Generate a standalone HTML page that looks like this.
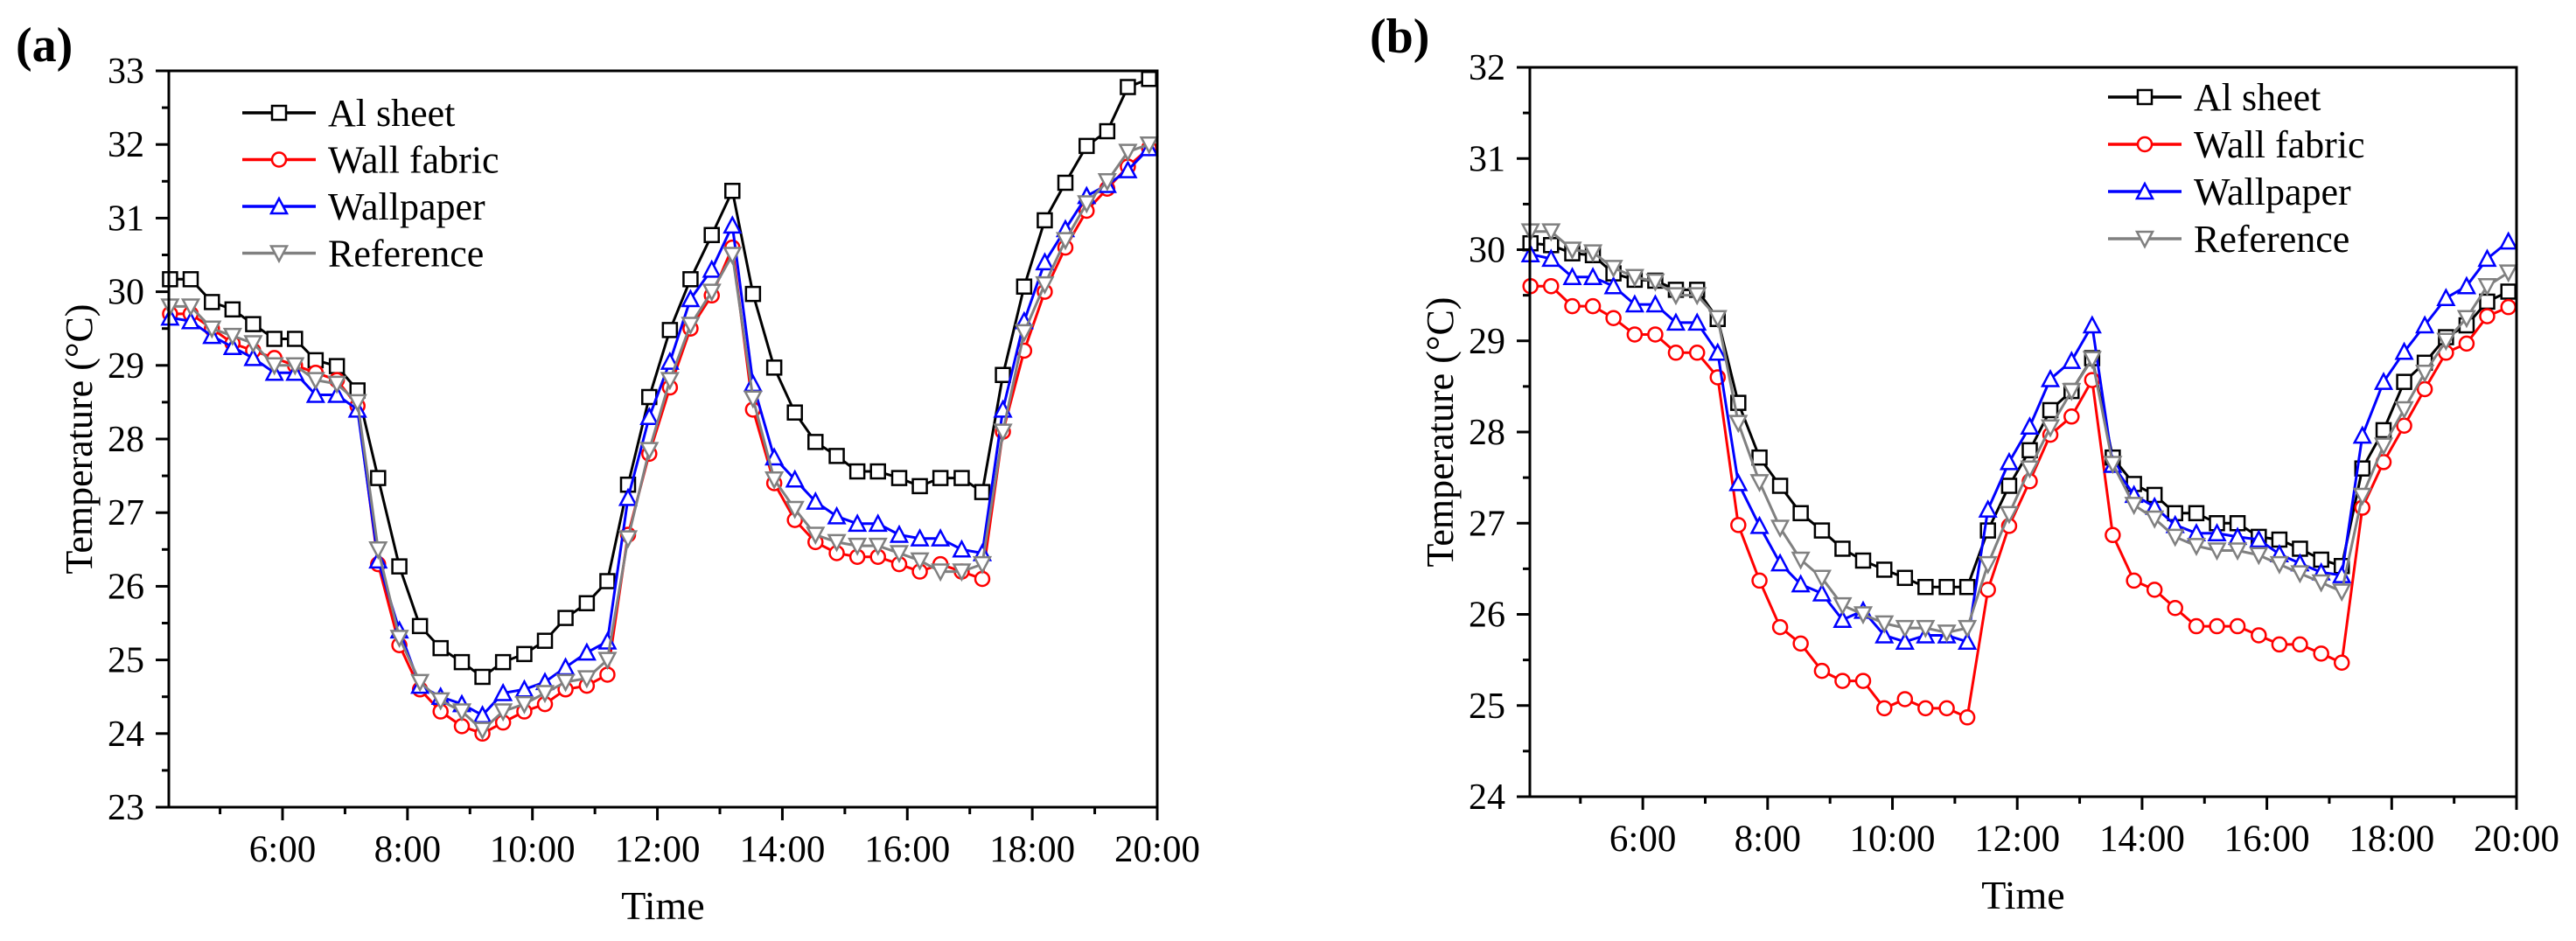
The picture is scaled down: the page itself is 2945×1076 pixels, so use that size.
<!DOCTYPE html>
<html><head><meta charset="utf-8"><style>
html,body{margin:0;padding:0;background:#fff;}
svg{display:block;font-family:"Liberation Serif",serif;}
text{font-family:"Liberation Serif",serif;}
</style></head><body>
<svg id="chart" width="2945" height="1076" viewBox="0 0 2945 1076"></svg>
<script>
const times = [4.2,4.53,4.87,5.2,5.53,5.87,6.2,6.53,6.87,7.2,7.53,7.87,8.2,8.53,8.87,9.2,9.53,9.87,10.2,10.53,10.87,11.2,11.53,11.87,12.2,12.53,12.87,13.2,13.53,13.87,14.2,14.53,14.87,15.2,15.53,15.87,16.2,16.53,16.87,17.2,17.53,17.87,18.2,18.53,18.87,19.2,19.53,19.87];
const seriesNames = ["Al sheet","Wall fabric","Wallpaper","Reference"];
const xTickLabels = ["6:00","8:00","10:00","12:00","14:00","16:00","18:00","20:00"];
const xTickHours = [6,8,10,12,14,16,18,20];
const aAl = [30.17,30.17,29.86,29.76,29.56,29.36,29.36,29.07,28.99,28.66,27.47,26.27,25.46,25.16,24.97,24.77,24.97,25.08,25.26,25.57,25.77,26.07,27.38,28.57,29.48,30.17,30.77,31.37,29.97,28.97,28.36,27.96,27.77,27.56,27.56,27.47,27.36,27.47,27.47,27.28,28.87,30.07,30.97,31.48,31.98,32.18,32.78,32.89];
const aFabric = [29.7,29.7,29.5,29.3,29.2,29.1,29.0,28.9,28.8,28.45,26.3,25.2,24.6,24.3,24.1,24.0,24.15,24.3,24.4,24.6,24.65,24.8,26.7,27.8,28.7,29.5,29.95,30.6,28.4,27.4,26.9,26.6,26.45,26.4,26.4,26.3,26.2,26.3,26.2,26.1,28.1,29.2,30.0,30.6,31.1,31.4,31.7,31.95];
const aPaper = [29.65,29.6,29.4,29.25,29.1,28.9,28.9,28.6,28.6,28.4,26.35,25.4,24.65,24.5,24.4,24.25,24.55,24.6,24.7,24.9,25.1,25.25,27.2,28.3,29.05,29.9,30.3,30.9,28.75,27.75,27.45,27.15,26.95,26.85,26.85,26.7,26.65,26.65,26.5,26.45,28.4,29.6,30.4,30.85,31.3,31.45,31.65,31.95];
const aRef = [29.8,29.8,29.5,29.4,29.3,29.0,29.0,28.8,28.75,28.5,26.5,25.3,24.7,24.45,24.3,24.05,24.3,24.4,24.55,24.7,24.75,25.0,26.65,27.85,28.8,29.55,30.0,30.5,28.55,27.45,27.05,26.7,26.6,26.55,26.55,26.45,26.35,26.2,26.2,26.3,28.1,29.45,30.1,30.7,31.2,31.5,31.9,32.0];
const bAl = [30.07,30.05,29.96,29.94,29.74,29.67,29.66,29.56,29.56,29.24,28.32,27.72,27.41,27.11,26.92,26.72,26.59,26.49,26.40,26.30,26.30,26.30,26.92,27.41,27.80,28.24,28.45,28.81,27.72,27.43,27.31,27.11,27.11,27.00,27.00,26.85,26.82,26.72,26.60,26.53,27.60,28.02,28.55,28.76,29.04,29.17,29.43,29.54];
const bFabric = [29.6,29.6,29.38,29.38,29.25,29.07,29.07,28.87,28.87,28.6,26.98,26.37,25.86,25.68,25.38,25.27,25.27,24.97,25.07,24.97,24.97,24.87,26.27,26.97,27.46,27.97,28.17,28.57,26.87,26.37,26.27,26.07,25.87,25.87,25.87,25.77,25.67,25.67,25.57,25.47,27.17,27.67,28.07,28.47,28.87,28.97,29.27,29.37];
const bPaper = [29.95,29.9,29.7,29.7,29.6,29.4,29.4,29.2,29.2,28.87,27.44,26.97,26.56,26.33,26.23,25.94,26.04,25.77,25.7,25.77,25.77,25.7,27.15,27.67,28.06,28.58,28.78,29.17,27.64,27.31,27.18,26.98,26.89,26.89,26.85,26.82,26.66,26.56,26.46,26.43,27.96,28.55,28.88,29.17,29.47,29.6,29.9,30.09];
const bRef = [30.2,30.2,30.0,29.97,29.8,29.7,29.65,29.5,29.5,29.25,28.1,27.45,26.95,26.6,26.4,26.1,26.0,25.9,25.85,25.85,25.8,25.85,26.55,27.1,27.6,28.05,28.45,28.8,27.65,27.2,27.05,26.85,26.75,26.7,26.7,26.65,26.55,26.45,26.35,26.25,27.3,27.85,28.25,28.65,29.0,29.25,29.6,29.75];

const NS="http://www.w3.org/2000/svg";
const svg=document.getElementById('chart');
const colors=["#000000","#ff0000","#0000ff","#808080"];
const markers=["square","circle","tri","tridown"];
const FF='Liberation Serif, serif';
function el(tag,attrs,parent){const e=document.createElementNS(NS,tag);for(const k in attrs)e.setAttribute(k,attrs[k]);if(tag==='text')e.setAttribute('font-family',FF);(parent||svg).appendChild(e);return e;}
function marker(kind,x,y,c,g){
  const s=8;
  if(kind==="square") return el('rect',{x:x-s,y:y-s,width:2*s,height:2*s,fill:'#fff',stroke:c,'stroke-width':2.5},g);
  if(kind==="circle") return el('circle',{cx:x,cy:y,r:s,fill:'#fff',stroke:c,'stroke-width':2.5},g);
  if(kind==="tri") return el('polygon',{points:`${x},${y-s-1} ${x-s-1},${y+s} ${x+s+1},${y+s}`,fill:'#fff',stroke:c,'stroke-width':2.5},g);
  return el('polygon',{points:`${x},${y+s+1} ${x-s-1},${y-s} ${x+s+1},${y-s}`,fill:'#fff',stroke:c,'stroke-width':2.5},g);
}
function panel(cfg){
  const {L,R,T,B,t0,t1,y0,y1,data,label,labX,labY,legX,legY,legDy,name}=cfg;
  const g=el('g',{});
  
  
  const xs=t=>L+(t-t0)/(t1-t0)*(R-L);
  const ys=v=>B-(v-y0)/(y1-y0)*(B-T);
  data.forEach((vals,si)=>{
    const sg=el('g',{},g);
    
    
    const pts=vals.map((v,i)=>xs(times[i]).toFixed(1)+','+ys(v).toFixed(1)).join(' ');
    const pl=el('polyline',{points:pts,fill:'none',stroke:colors[si],'stroke-width':3,'stroke-linejoin':'round'},sg);
    
    
    vals.forEach((v,i)=>{
      const m=marker(markers[si],xs(times[i]),ys(v),colors[si],sg);
      
      
    });
  });
  const fr=el('rect',{x:L,y:T,width:R-L,height:B-T,fill:'none',stroke:'#000','stroke-width':3},g);
  
  
  for(let v=y0;v<=y1;v+=1){
    const y=ys(v);
    el('line',{x1:L-15,x2:L,y1:y,y2:y,stroke:'#000','stroke-width':3},g);
    const t=el('text',{x:L-28,y:y+14,'text-anchor':'end','font-size':42},g);
    t.textContent=v;
    
    
    if(v<y1){const ym=ys(v+0.5);el('line',{x1:L-8,x2:L,y1:ym,y2:ym,stroke:'#000','stroke-width':3},g);}
  }
  for(let h=5;h<=20;h++){
    const x=xs(h);
    const major=xTickHours.indexOf(h)>=0;
    el('line',{x1:x,x2:x,y1:B,y2:B+(major?15:8),stroke:'#000','stroke-width':3},g);
  }
  xTickLabels.forEach((lab,i)=>{
    const t=el('text',{x:xs(xTickHours[i]),y:B+62,'text-anchor':'middle','font-size':43},g);
    t.textContent=lab;
    
    
  });
  const xt=el('text',{x:(L+R)/2,y:B+128,'text-anchor':'middle','font-size':46},g);
  xt.textContent='Time';
  
  
  const yt=el('text',{x:0,y:0,'text-anchor':'middle','font-size':44,transform:`translate(${L-88},${(T+B)/2}) rotate(-90)`},g);
  yt.textContent='Temperature (°C)';
  
  
  const pl=el('text',{x:labX,y:labY,'font-size':56,'font-weight':'bold'},g);
  pl.textContent=label;
  
  
  const lg=el('g',{},g);
  
  
  seriesNames.forEach((n,i)=>{
    const y=legY+i*legDy;
    const eg=el('g',{},lg);
    
    
    el('line',{x1:legX,x2:legX+84,y1:y,y2:y,stroke:colors[i],'stroke-width':3.5},eg);
    marker(markers[i],legX+42,y,colors[i],eg);
    const t=el('text',{x:legX+98,y:y+15,'font-size':44},eg);
    t.textContent=n;
  });
}
panel({name:'panel-a',L:193,R:1323,T:81,B:923,t0:4.18,t1:20,y0:23,y1:33,data:[aAl,aFabric,aPaper,aRef],label:'(a)',labX:18,labY:70,legX:277,legY:129,legDy:53.5});
panel({name:'panel-b',L:1749,R:2877,T:77,B:911,t0:4.19,t1:20,y0:24,y1:32,data:[bAl,bFabric,bPaper,bRef],label:'(b)',labX:1566,labY:60,legX:2410,legY:111,legDy:54});
</script>
</body></html>
